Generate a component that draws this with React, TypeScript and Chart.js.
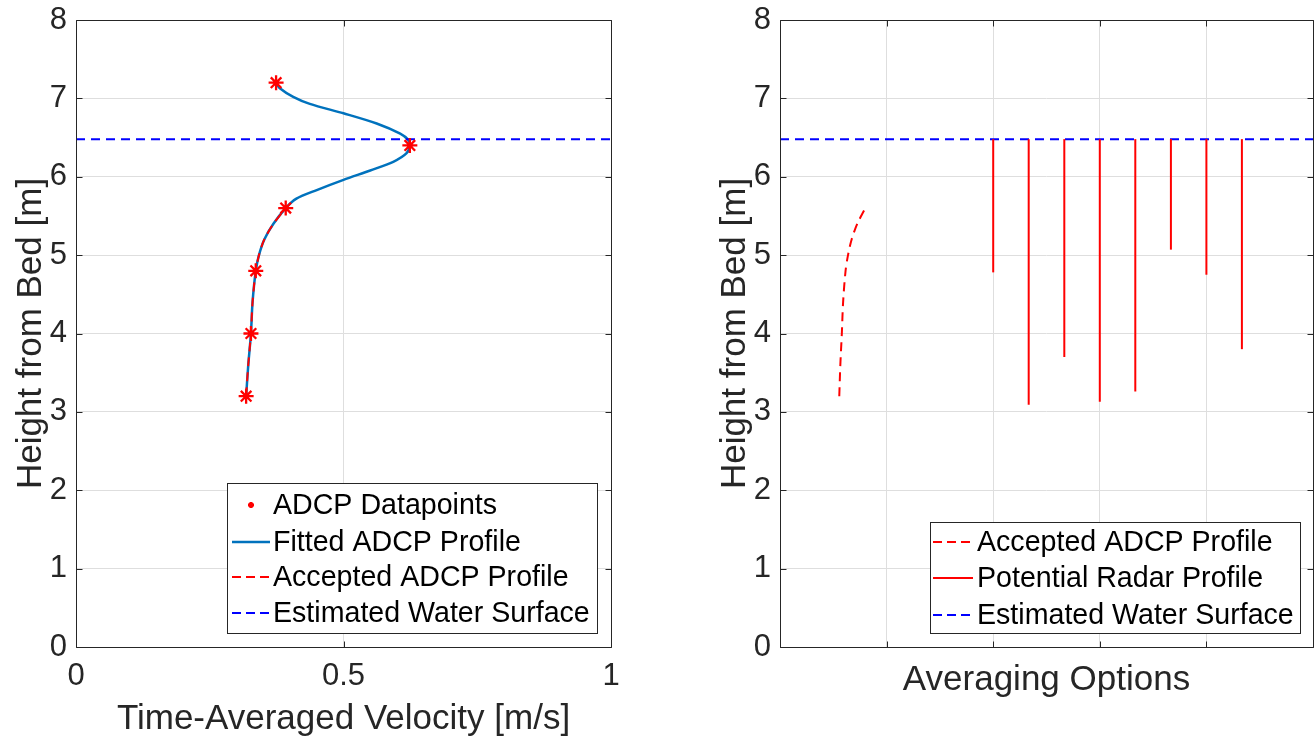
import React, { useEffect, useRef } from 'react';
import { Chart, registerables } from 'chart.js';

Chart.register(...registerables);

// ---------- data: left panel ----------
const adcpHeights = [3.2, 4.0, 4.8, 5.6, 6.4, 7.2];
const adcpVelocity = [0.318, 0.327, 0.336, 0.392, 0.624, 0.374];

const fittedHeights = [3.2, 3.6, 4.0, 4.4, 4.8, 5.0, 5.2, 5.4, 5.6, 5.72, 5.83, 5.96, 6.08, 6.19, 6.3, 6.4, 6.47, 6.55, 6.68, 6.81, 6.93, 7.02, 7.13, 7.2];
const fittedVelocity = [0.318, 0.322, 0.327, 0.33, 0.336, 0.342, 0.352, 0.369, 0.392, 0.412, 0.45, 0.5, 0.55, 0.593, 0.618, 0.624, 0.621, 0.606, 0.562, 0.5, 0.437, 0.406, 0.381, 0.374];

const acceptedHeights = [3.2, 3.6, 4.0, 4.4, 4.8, 5.0, 5.2, 5.4, 5.6];
const acceptedVelocity = [0.318, 0.322, 0.327, 0.33, 0.336, 0.342, 0.352, 0.369, 0.392];

const waterSurface = 6.48;
const velocityTicks = [0, 0.5, 1];
const velocityTickLabels = ['0', '0.5', '1'];
const heightTicks = [0, 1, 2, 3, 4, 5, 6, 7, 8];

// ---------- data: right panel ----------
const optionAcceptedHeights = [3.2, 3.6, 4.0, 4.4, 4.8, 5.0, 5.2, 5.4, 5.6];
const optionAcceptedX = [0.556, 0.566, 0.58, 0.592, 0.615, 0.638, 0.672, 0.725, 0.8];
const radarOptionX = [2, 2.333, 2.667, 3, 3.333, 3.667, 4, 4.333];
const radarBottom = [4.78, 3.09, 3.7, 3.13, 3.26, 5.07, 4.75, 3.8];
const optionTicks = [0, 1, 2, 3, 4, 5];

const FONT = "'Liberation Sans', Arial, Helvetica, sans-serif";
const AXIS = '#262626';
const GRID = '#dedede';
const BLUE_FIT = '#0072BD';
const TICK_SIZE = 31;
const TITLE_SIZE = 35;
const LEGEND_SIZE = 28.6;

type LegendItem = { label: string; kind: 'marker' | 'line'; color: string; dash?: number[]; width?: number };
type LegendSpec = { box: [number, number, number, number]; rows: number[]; lineX: [number, number]; textX: number; items: LegendItem[] };

function drawStar(ctx: CanvasRenderingContext2D, x: number, y: number, r: number) {
  ctx.beginPath();
  for (let k = 0; k < 4; k++) {
    const a = (k * Math.PI) / 4;
    ctx.moveTo(x - r * Math.cos(a), y - r * Math.sin(a));
    ctx.lineTo(x + r * Math.cos(a), y + r * Math.sin(a));
  }
  ctx.stroke();
}

function framePlugin(spec: LegendSpec) {
  return {
    id: 'frameAndLegend',
    afterDatasetsDraw(chart: any) {
      const { ctx, chartArea: a } = chart;
      const xs = chart.scales.x;
      const ys = chart.scales.y;
      ctx.save();
      ctx.setLineDash([]);
      ctx.strokeStyle = AXIS;
      ctx.lineWidth = 1;
      const L = Math.round(a.left) + 0.5;
      const R = Math.round(a.right) + 0.5;
      const T = Math.round(a.top) + 0.5;
      const B = Math.round(a.bottom) + 0.5;
      ctx.beginPath();
      ctx.rect(L, T, R - L, B - T);
      const tl = 6;
      for (const t of ys.ticks) {
        const p = Math.round(ys.getPixelForValue(t.value)) + 0.5;
        ctx.moveTo(L, p); ctx.lineTo(L + tl, p);
        ctx.moveTo(R, p); ctx.lineTo(R - tl, p);
      }
      for (const t of xs.ticks) {
        const p = Math.round(xs.getPixelForValue(t.value)) + 0.5;
        ctx.moveTo(p, B); ctx.lineTo(p, B - tl);
        ctx.moveTo(p, T); ctx.lineTo(p, T + tl);
      }
      ctx.stroke();

      // legend box inside the axes
      const [x0, y0, x1, y1] = spec.box;
      ctx.fillStyle = '#ffffff';
      ctx.fillRect(x0, y0, x1 - x0, y1 - y0);
      ctx.strokeStyle = AXIS;
      ctx.lineWidth = 1;
      ctx.strokeRect(x0 + 0.5, y0 + 0.5, x1 - x0, y1 - y0);
      ctx.font = `${LEGEND_SIZE}px ${FONT}`;
      ctx.textBaseline = 'middle';
      ctx.textAlign = 'left';
      spec.items.forEach((it, i) => {
        const y = spec.rows[i];
        if (it.kind === 'marker') {
          ctx.strokeStyle = it.color;
          ctx.lineWidth = 2;
          ctx.setLineDash([]);
          drawStar(ctx, (spec.lineX[0] + spec.lineX[1]) / 2, y, 3);
        } else {
          ctx.strokeStyle = it.color;
          ctx.lineWidth = it.width || 2;
          ctx.setLineDash(it.dash || []);
          ctx.beginPath();
          ctx.moveTo(spec.lineX[0], y);
          ctx.lineTo(spec.lineX[1], y);
          ctx.stroke();
        }
        ctx.setLineDash([]);
        ctx.fillStyle = '#000000';
        ctx.fillText(it.label, spec.textX, y + 1);
      });
      ctx.restore();
    },
  };
}

function baseScales(xOpts: any, yTitlePad: number) {
  return {
    x: {
      type: 'linear',
      position: 'bottom',
      afterFit: (s: any) => {
        s.height = 93;
        s.paddingLeft = 0;
        s.paddingRight = 0;
      },
      border: { display: false },
      grid: { color: GRID, lineWidth: 1, drawTicks: false },
      ...xOpts,
    },
    y: {
      type: 'linear',
      position: 'left',
      min: 0,
      max: 8,
      afterFit: (s: any) => {
        s.width = 76;
        s.paddingTop = 0;
        s.paddingBottom = 0;
      },
      afterBuildTicks: (s: any) => { s.ticks = heightTicks.map((v) => ({ value: v })); },
      border: { display: false },
      grid: { color: GRID, lineWidth: 1, drawTicks: false },
      ticks: { font: { family: FONT, size: TICK_SIZE }, color: AXIS, padding: 9 },
      title: {
        display: true,
        text: 'Height from Bed [m]',
        font: { family: FONT, size: TITLE_SIZE },
        color: AXIS,
        padding: { top: yTitlePad, bottom: 0 },
      },
    },
  };
}

function leftConfig(): any {
  const xy = (xs: number[], ys: number[]) => xs.map((x, i) => ({ x, y: ys[i] }));
  return {
    type: 'scatter',
    data: {
      datasets: [
        {
          label: 'ADCP Datapoints',
          data: xy(adcpVelocity, adcpHeights),
          pointStyle: 'star',
          pointRadius: 7.5,
          pointBorderWidth: 2.3,
          borderColor: '#ff0000',
          backgroundColor: '#ff0000',
          showLine: false,
          order: 0,
        },
        {
          label: 'Fitted ADCP Profile',
          data: xy(fittedVelocity, fittedHeights),
          showLine: true,
          borderColor: BLUE_FIT,
          borderWidth: 2.5,
          pointRadius: 0,
          tension: 0.3,
          order: 3,
        },
        {
          label: 'Accepted ADCP Profile',
          data: xy(acceptedVelocity, acceptedHeights),
          showLine: true,
          borderColor: '#ff0000',
          borderWidth: 2,
          borderDash: [9, 6],
          pointRadius: 0,
          tension: 0.3,
          order: 1,
        },
        {
          label: 'Estimated Water Surface',
          data: [{ x: 0, y: waterSurface }, { x: 1, y: waterSurface }],
          showLine: true,
          borderColor: '#0000ff',
          borderWidth: 2,
          borderDash: [9, 6],
          pointRadius: 0,
          order: 2,
        },
      ],
    },
    options: {
      responsive: false,
      animation: false,
      devicePixelRatio: 1,
      layout: { padding: { top: 20, left: 0, right: 49, bottom: 0 } },
      plugins: { legend: { display: false }, tooltip: { enabled: false } },
      scales: baseScales(
        {
          min: 0,
          max: 1,
          afterBuildTicks: (s: any) => { s.ticks = velocityTicks.map((v) => ({ value: v })); },
          ticks: {
            font: { family: FONT, size: TICK_SIZE },
            color: AXIS,
            padding: 11,
            maxRotation: 0,
            autoSkip: false,
            callback: (_v: any, i: number) => velocityTickLabels[i],
          },
          title: {
            display: true,
            text: 'Time-Averaged Velocity [m/s]',
            font: { family: FONT, size: TITLE_SIZE },
            color: AXIS,
            padding: { top: 0, bottom: 0 },
          },
        },
        10,
      ),
    },
    plugins: [
      framePlugin({
        box: [227, 483, 597, 633],
        rows: [505, 542, 577, 613],
        lineX: [232, 270],
        textX: 273,
        items: [
          { label: 'ADCP Datapoints', kind: 'marker', color: '#ff0000' },
          { label: 'Fitted ADCP Profile', kind: 'line', color: BLUE_FIT, width: 2.5 },
          { label: 'Accepted ADCP Profile', kind: 'line', color: '#ff0000', dash: [9, 5], width: 2 },
          { label: 'Estimated Water Surface', kind: 'line', color: '#0000ff', dash: [9, 5], width: 2 },
        ],
      }),
    ],
  };
}

function rightConfig(): any {
  const radarSets = radarOptionX.map((x, i) => ({
    label: 'Potential Radar Profile',
    data: [{ x, y: radarBottom[i] }, { x, y: waterSurface }],
    showLine: true,
    borderColor: '#ff0000',
    borderWidth: 2,
    pointRadius: 0,
    order: 2,
  }));
  return {
    type: 'scatter',
    data: {
      datasets: [
        {
          label: 'Accepted ADCP Profile',
          data: optionAcceptedX.map((x, i) => ({ x, y: optionAcceptedHeights[i] })),
          showLine: true,
          borderColor: '#ff0000',
          borderWidth: 2,
          borderDash: [9, 6],
          pointRadius: 0,
          tension: 0.3,
          order: 1,
        },
        ...radarSets,
        {
          label: 'Estimated Water Surface',
          data: [{ x: 0, y: waterSurface }, { x: 5, y: waterSurface }],
          showLine: true,
          borderColor: '#0000ff',
          borderWidth: 2,
          borderDash: [9, 6],
          pointRadius: 0,
          order: 3,
        },
      ],
    },
    options: {
      responsive: false,
      animation: false,
      devicePixelRatio: 1,
      layout: { padding: { top: 20, left: 0, right: 2, bottom: 0 } },
      plugins: { legend: { display: false }, tooltip: { enabled: false } },
      scales: baseScales(
        {
          min: 0,
          max: 5,
          afterBuildTicks: (s: any) => { s.ticks = optionTicks.map((v) => ({ value: v })); },
          ticks: { display: false },
          title: {
            display: true,
            text: 'Averaging Options',
            font: { family: FONT, size: TITLE_SIZE },
            color: AXIS,
            padding: { top: 0, bottom: 39 },
          },
        },
        10,
      ),
    },
    plugins: [
      framePlugin({
        box: [226, 522, 596, 633],
        rows: [542, 578, 615],
        lineX: [229, 269],
        textX: 273,
        items: [
          { label: 'Accepted ADCP Profile', kind: 'line', color: '#ff0000', dash: [9, 5], width: 2 },
          { label: 'Potential Radar Profile', kind: 'line', color: '#ff0000', width: 2 },
          { label: 'Estimated Water Surface', kind: 'line', color: '#0000ff', dash: [9, 5], width: 2 },
        ],
      }),
    ],
  };
}

export default function App() {
  const leftRef = useRef<HTMLCanvasElement>(null);
  const rightRef = useRef<HTMLCanvasElement>(null);
  useEffect(() => {
    const c1 = new Chart(leftRef.current as HTMLCanvasElement, leftConfig());
    const c2 = new Chart(rightRef.current as HTMLCanvasElement, rightConfig());
    return () => {
      c1.destroy();
      c2.destroy();
    };
  }, []);
  return (
    <div style={{ position: 'fixed', left: 0, top: 0, width: 1315, height: 740, background: '#ffffff', overflow: 'hidden' }}>
      <canvas ref={leftRef} width={660} height={740} style={{ position: 'absolute', left: 0, top: 0, width: 660, height: 740 }} />
      <canvas ref={rightRef} width={611} height={740} style={{ position: 'absolute', left: 704, top: 0, width: 611, height: 740 }} />
    </div>
  );
}
